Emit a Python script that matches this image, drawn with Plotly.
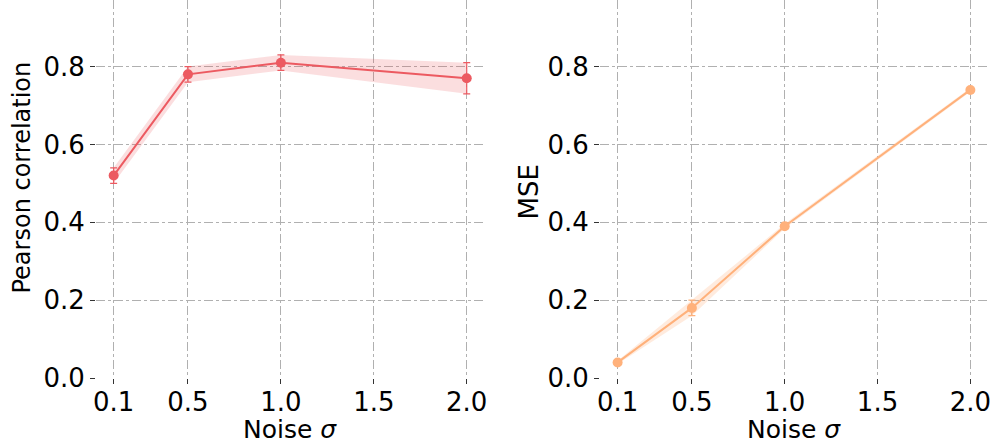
import plotly.graph_objects as go

noise = [0.1, 0.5, 1.0, 2.0]
pearson_mean = [0.52, 0.78, 0.81, 0.77]
pearson_std = [0.02, 0.02, 0.02, 0.04]
mse_mean = [0.04, 0.18, 0.39, 0.74]
mse_std = [0.004, 0.02, 0.006, 0.005]
x_ticks = [0.1, 0.5, 1.0, 1.5, 2.0]
x_ticklabels = ["0.1", "0.5", "1.0", "1.5", "2.0"]
y_ticks = [0.0, 0.2, 0.4, 0.6, 0.8]
y_ticklabels = ["0.0", "0.2", "0.4", "0.6", "0.8"]
x_title = "Noise <i>σ</i>"
y_titles = ["Pearson correlation", "MSE"]

RED = "#ec5a61"
RED_FILL = "rgba(236,90,97,0.2)"
ORANGE = "#ffb17b"
ORANGE_FILL = "rgba(255,177,123,0.25)"

fig = go.Figure()

def add_series(mean, std, color, fill, xa, ya):
    upper = [m + s for m, s in zip(mean, std)]
    lower = [m - s for m, s in zip(mean, std)]
    fig.add_trace(go.Scatter(
        x=noise + noise[::-1], y=upper + lower[::-1], fill="toself",
        fillcolor=fill, line=dict(width=0), mode="lines",
        hoverinfo="skip", showlegend=False, xaxis=xa, yaxis=ya))
    fig.add_trace(go.Scatter(
        x=noise, y=mean, mode="lines+markers",
        line=dict(color=color, width=2),
        marker=dict(color=color, size=10),
        error_y=dict(type="data", array=std, color=color, thickness=1.2, width=3.5),
        showlegend=False, xaxis=xa, yaxis=ya))

add_series(pearson_mean, pearson_std, RED, RED_FILL, "x", "y")
add_series(mse_mean, mse_std, ORANGE, ORANGE_FILL, "x2", "y2")

FONT = "DejaVu Sans"
TFS = 26
axis_common = dict(
    showline=False, zeroline=False, showgrid=True,
    gridcolor="#b0b0b0", griddash="dashdot", gridwidth=0.8,
    ticks="outside", ticklen=5, tickcolor="#333333", tickwidth=1,
    tickfont=dict(family=FONT, size=TFS, color="black"),
)

x_common = dict(axis_common, range=[0.005, 2.095], tickvals=x_ticks, ticktext=x_ticklabels,
                ticklabelstandoff=-4)
y_common = dict(axis_common, range=[0, 0.971], tickvals=y_ticks, ticktext=y_ticklabels)

fig.update_layout(
    width=992, height=439,
    margin=dict(l=96, r=4, t=0, b=61),
    paper_bgcolor="white", plot_bgcolor="white",
    font=dict(family=FONT, size=TFS, color="black"),
    xaxis=dict(x_common, domain=[0.0, 0.4354], anchor="y"),
    yaxis=dict(y_common, domain=[0, 1], anchor="x"),
    xaxis2=dict(x_common, domain=[0.565, 1.0], anchor="y2"),
    yaxis2=dict(y_common, domain=[0, 1], anchor="x2"),
)

ylab = [dict(size=24, xshift=-74, y=0.5304), dict(size=26, xshift=-70, y=0.4934)]
for i, (xa, ya) in enumerate([("x", "y"), ("x2", "y2")]):
    fig.add_annotation(text=x_title, xref=f"{xa} domain", yref=f"{ya} domain",
                       x=0.5, y=0, xanchor="center", yanchor="middle", yshift=-51,
                       showarrow=False, font=dict(family=FONT, size=25, color="black"))
    fig.add_annotation(text=y_titles[i], xref=f"{xa} domain", yref=f"{ya} domain",
                       x=0, y=ylab[i]["y"], xanchor="center", yanchor="middle",
                       xshift=ylab[i]["xshift"], textangle=-90, showarrow=False,
                       font=dict(family=FONT, size=ylab[i]["size"], color="black"))

fig.write_html("out.html", config={"displayModeBar": False},
               post_script="document.body.style.margin='0';document.body.style.overflow='hidden';")
